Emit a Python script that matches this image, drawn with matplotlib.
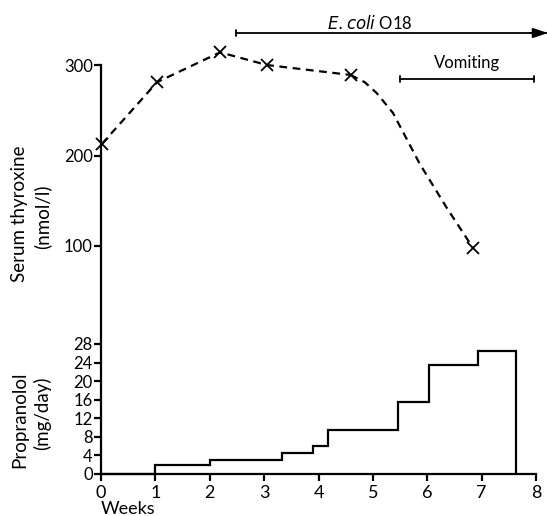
import numpy as np
import matplotlib
matplotlib.use("Agg")
import matplotlib.pyplot as plt

# serum thyroxine (nmol/l) at the marked visits
t4_weeks = [0.02, 1.03, 2.19, 3.05, 4.59, 6.84]
t4_values = [213, 281, 314, 300, 289, 98]
# points along the drawn curve between the last two visits
curve_weeks = [4.59, 4.85, 5.07, 5.37, 5.86, 6.35, 6.84]
curve_values = [289, 281, 269, 247, 191, 143, 98]

# propranolol dose (mg/day), step edges in weeks
dose_edges = [0, 1.0, 2.0, 3.32, 3.9, 4.18, 5.47, 6.03, 6.93, 7.63]
dose_values = [0, 2, 3, 4.5, 6, 9.5, 15.5, 23.5, 26.5]

ecoli_start = 2.48
vomit_span = (5.5, 7.96)

W, H = 547, 516
fig = plt.figure(figsize=(W / 100, H / 100), dpi=100)
plt.rcParams["font.family"] = ["Lato", "DejaVu Sans"]

def px(x0, y0, x1, y1):
    # figure rectangle from pixel box (top-left origin)
    return [x0 / W, 1 - y1 / H, (x1 - x0) / W, (y1 - y0) / H]

# upper panel: 300 at y=65, 100 at y=246, bottom at x-axis (y=474)
per_px = 200 / (246 - 65)
ymin_top = 300 - (474 - 65) * per_px
ax1 = fig.add_axes(px(101, 65, 536, 474))
ax1.set_xlim(0, 8)
ax1.set_ylim(ymin_top, 300)
ax1.patch.set_alpha(0)

def yval(ypix):
    return 300 - (ypix - 65) * per_px

# lower panel
ax2 = fig.add_axes(px(101, 344, 536, 474))
ax2.set_xlim(0, 8)
ax2.set_ylim(0, 28)
ax2.patch.set_alpha(0)

lw = 1.6
for s in ["top", "right", "bottom"]:
    ax1.spines[s].set_visible(False)
ax1.spines["left"].set_linewidth(lw)
ax1.set_xticks([])
ax1.set_yticks([100, 200, 300])
ax1.set_yticklabels(["100", "200", "300"])
ax1.tick_params(axis="y", length=5, width=lw, labelsize=12, pad=1)

for s in ["top", "right", "left"]:
    ax2.spines[s].set_visible(False)
ax2.spines["bottom"].set_linewidth(lw)
ax2.set_yticks(np.arange(0, 29, 4))
ax2.tick_params(axis="y", length=5, width=lw, labelsize=12, pad=1)
ax2.set_xticks(range(9))
ax2.tick_params(axis="x", length=5, width=lw, labelsize=13, pad=3)

# thyroxine
ax1.plot(t4_weeks[:5], t4_values[:5], ls=(0, (3.5, 2.5)), color="black", lw=lw, clip_on=False)
ax1.plot(curve_weeks, curve_values, ls=(0, (3.5, 2.5)), color="black", lw=lw, clip_on=False)
ax1.plot(t4_weeks, t4_values, ls="none", marker="x", ms=8, mew=1.3, color="black", clip_on=False)

# E. coli arrow
y_eco = yval(33)
ax1.annotate("", xy=(8.2, y_eco), xytext=(ecoli_start, y_eco),
             arrowprops=dict(arrowstyle="|-|,widthA=0.25,widthB=0", color="black", lw=1.3,
                             shrinkA=0, shrinkB=0),
             annotation_clip=False)
ax1.annotate("", xy=(8.22, y_eco), xytext=(7.9, y_eco),
             arrowprops=dict(arrowstyle="-|>,head_length=0.9,head_width=0.3", color="black", lw=1.3,
                             shrinkA=0, shrinkB=0),
             annotation_clip=False)
ax1.text(4.95, yval(23), r"$\it{E.coli}$ O18", ha="center", va="center", fontsize=12, clip_on=False)

# vomiting bar
y_vom = yval(79)
ax1.annotate("", xy=(vomit_span[1], y_vom), xytext=(vomit_span[0], y_vom),
             arrowprops=dict(arrowstyle="|-|,widthA=0.25,widthB=0.25", color="black", lw=1.3,
                             shrinkA=0, shrinkB=0),
             annotation_clip=False)
ax1.text(6.73, yval(63), "Vomiting", ha="center", va="center", fontsize=12)

# propranolol
ax2.stairs(dose_values, dose_edges, color="black", lw=lw, baseline=0, clip_on=False)

# axis labels
fig.text(20 / W, 1 - 214 / H, "Serum thyroxine", rotation=90, ha="center", va="center", fontsize=13.5)
fig.text(42 / W, 1 - 217 / H, "(nmol/l)", rotation=90, ha="center", va="center", fontsize=13.5)
fig.text(20 / W, 1 - 420 / H, "Propranolol", rotation=90, ha="center", va="center", fontsize=13.5)
fig.text(42 / W, 1 - 413 / H, "(mg/day)", rotation=90, ha="center", va="center", fontsize=13.5)
fig.text(128 / W, 1 - 509 / H, "Weeks", ha="center", va="center", fontsize=13)

fig.savefig("out.png", dpi=100)
